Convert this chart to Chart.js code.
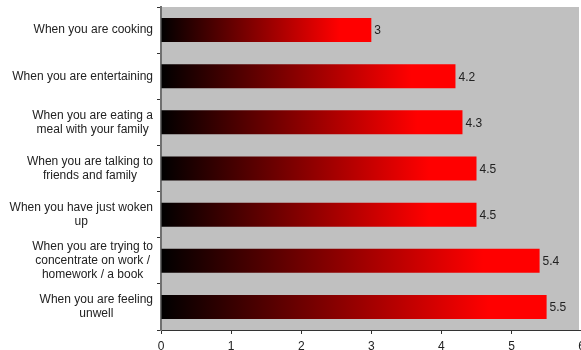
<!DOCTYPE html>
<html>
<head>
<meta charset="utf-8">
<script src="https://cdn.jsdelivr.net/npm/chart.js@4/dist/chart.umd.min.js"></script>
<style>
  html, body { margin: 0; padding: 0; background: #fff; overflow: hidden; }
  #wrap { position: relative; width: 590px; height: 350px; }
</style>
</head>
<body>
<div id="wrap"><canvas id="c"></canvas></div>
<script>
const categories = [
  ["When you are cooking"],
  ["When you are entertaining"],
  ["When you are eating a", "meal with your family"],
  ["When you are talking to", "friends and family"],
  ["When you have just woken", "up"],
  ["When you are trying to", "concentrate on work /", "homework / a book"],
  ["When you are feeling", "unwell"]
];
const values = [3, 4.2, 4.3, 4.5, 4.5, 5.4, 5.5];
const valueLabels = ["3", "4.2", "4.3", "4.5", "4.5", "5.4", "5.5"];
const xTicks = [0, 1, 2, 3, 4, 5, 6];

const FONT = '"Liberation Sans", Arial, sans-serif';
const TEXT = '#222';

const plotBg = {
  id: 'plotBg',
  beforeDraw(chart) {
    const a = chart.chartArea, ctx = chart.ctx;
    ctx.save();
    ctx.fillStyle = '#c0c0c0';
    ctx.fillRect(a.left, a.top, Math.min(a.right, 579) - a.left, a.bottom - a.top);
    ctx.restore();
  }
};

const labelsPlugin = {
  id: 'labelsPlugin',
  afterDraw(chart) {
    const ctx = chart.ctx, y = chart.scales.y;
    ctx.save();
    ctx.font = '12px ' + FONT;
    ctx.fillStyle = TEXT;
    ctx.textAlign = 'center';
    ctx.textBaseline = 'middle';
    const rightEdge = 153, lh = 14;
    categories.forEach((lines, i) => {
      const cy = y.getPixelForValue(i);
      const w = Math.max(...lines.map(l => ctx.measureText(l).width));
      const cx = rightEdge - w / 2;
      const y0 = cy - (lines.length - 1) * lh / 2;
      lines.forEach((l, j) => ctx.fillText(l, cx, y0 + j * lh));
    });
    const meta = chart.getDatasetMeta(0);
    ctx.textAlign = 'left';
    meta.data.forEach((bar, i) => {
      ctx.fillText(valueLabels[i], bar.x + 3, bar.y + 1);
    });
    ctx.restore();
  }
};

new Chart(document.getElementById('c'), {
  type: 'bar',
  data: {
    labels: categories.map(c => c.join(' ')),
    datasets: [{
      data: values,
      barPercentage: 0.52,
      categoryPercentage: 1,
      borderWidth: 0,
      backgroundColor(ctx) {
        const chart = ctx.chart;
        if (!chart.chartArea) return '#f00';
        const xs = chart.scales.x;
        const v = ctx.raw;
        const x0 = xs.getPixelForValue(0), x1 = xs.getPixelForValue(v);
        const g = chart.ctx.createLinearGradient(x0, 0, x1, 0);
        g.addColorStop(0, '#000000');
        g.addColorStop(0.85, '#ff0000');
        g.addColorStop(1, '#ff0000');
        return g;
      }
    }]
  },
  options: {
    indexAxis: 'y',
    responsive: true,
    maintainAspectRatio: false,
    animation: false,
    events: [],
    layout: { padding: { top: 7, right: 7, bottom: 0, left: 0 } },
    plugins: { legend: { display: false }, tooltip: { enabled: false }, title: { display: false } },
    scales: {
      x: {
        min: 0, max: 6,
        afterBuildTicks(scale) { scale.ticks = xTicks.map(v => ({ value: v })); },
        afterFit(scale) { scale.height = 20; },
        grid: { drawOnChartArea: false, tickLength: 4, color: '#333', tickWidth: 1 },
        border: { color: '#333', width: 1 },
        ticks: { font: { size: 12, family: FONT }, color: TEXT, padding: 5, maxRotation: 0 }
      },
      y: {
        afterFit(scale) { scale.width = 161; },
        grid: { drawOnChartArea: false, offset: true, tickLength: 4, color: '#333' },
        border: { color: '#707070', width: 2 },
        ticks: { display: false }
      }
    }
  },
  plugins: [plotBg, labelsPlugin]
});
</script>
</body>
</html>
